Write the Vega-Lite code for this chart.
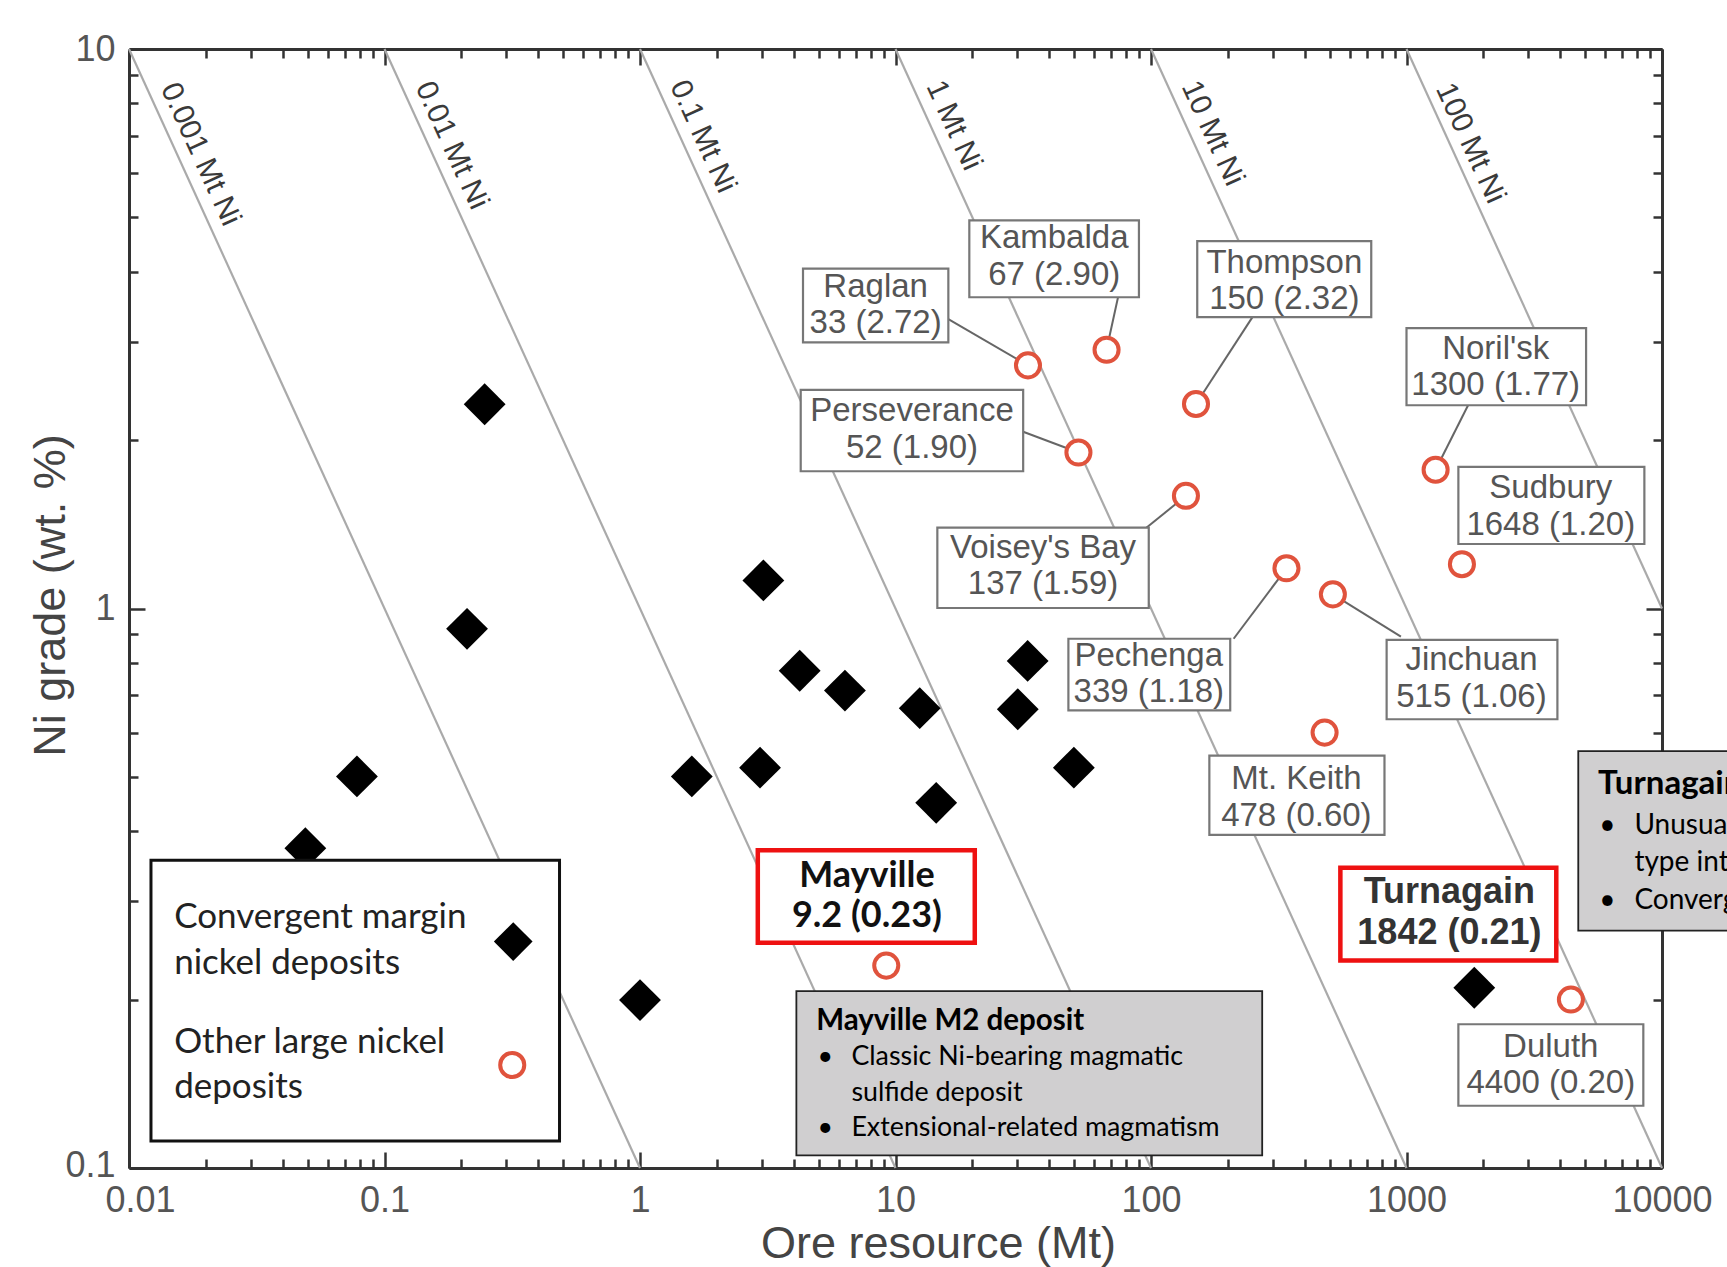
{
  "$schema": "https://vega.github.io/schema/vega-lite/v6.json",
  "width": 1533,
  "height": 1119,
  "autosize": {"type": "none"},
  "padding": {"left": 129, "top": 49, "right": 65, "bottom": 99},
  "background": "#ffffff",
  "config": {"view": {"stroke": null}, "font": "Liberation Sans"},
  "datasets": {
    "iso": [
      {"grp": "0.001", "x": 0.01, "y": 10}, {"grp": "0.001", "x": 1, "y": 0.1},
      {"grp": "0.01", "x": 0.1, "y": 10}, {"grp": "0.01", "x": 10, "y": 0.1},
      {"grp": "0.1", "x": 1, "y": 10}, {"grp": "0.1", "x": 100, "y": 0.1},
      {"grp": "1", "x": 10, "y": 10}, {"grp": "1", "x": 1000, "y": 0.1},
      {"grp": "10", "x": 100, "y": 10}, {"grp": "10", "x": 10000, "y": 0.1},
      {"grp": "100", "x": 1000, "y": 10}, {"grp": "100", "x": 10000, "y": 1}
    ],
    "isoLabels": [
      {"text": "0.001 Mt Ni", "x": 0.01905, "y": 6.486},
      {"text": "0.01 Mt Ni", "x": 0.1833, "y": 6.725},
      {"text": "0.1 Mt Ni", "x": 1.762, "y": 6.975},
      {"text": "1 Mt Ni", "x": 16.92, "y": 7.30},
      {"text": "10 Mt Ni", "x": 174.3, "y": 7.07},
      {"text": "100 Mt Ni", "x": 1778, "y": 6.786}
    ],
    "other": [
      {"name": "Raglan", "tonnage": 33, "grade": 2.72},
      {"name": "Kambalda", "tonnage": 67, "grade": 2.90},
      {"name": "Thompson", "tonnage": 150, "grade": 2.32},
      {"name": "Perseverance", "tonnage": 52, "grade": 1.90},
      {"name": "Voisey's Bay", "tonnage": 137, "grade": 1.59},
      {"name": "Pechenga", "tonnage": 339, "grade": 1.18},
      {"name": "Jinchuan", "tonnage": 515, "grade": 1.06},
      {"name": "Mt. Keith", "tonnage": 478, "grade": 0.60},
      {"name": "Noril'sk", "tonnage": 1300, "grade": 1.77},
      {"name": "Sudbury", "tonnage": 1648, "grade": 1.20},
      {"name": "Duluth", "tonnage": 4400, "grade": 0.20},
      {"name": "Mayville", "tonnage": 9.2, "grade": 0.23}
    ],
    "convergent": [
      {"tonnage": 0.2466, "grade": 2.318},
      {"tonnage": 0.2104, "grade": 0.9196},
      {"tonnage": 3.04, "grade": 1.1225},
      {"tonnage": 4.217, "grade": 0.774},
      {"tonnage": 6.34, "grade": 0.7134},
      {"tonnage": 12.44, "grade": 0.6636},
      {"tonnage": 32.9, "grade": 0.806},
      {"tonnage": 30.1, "grade": 0.6605},
      {"tonnage": 49.9, "grade": 0.5195},
      {"tonnage": 14.43, "grade": 0.4494},
      {"tonnage": 2.95, "grade": 0.5195},
      {"tonnage": 1.595, "grade": 0.501},
      {"tonnage": 0.078, "grade": 0.501},
      {"tonnage": 0.049, "grade": 0.373},
      {"tonnage": 1.0, "grade": 0.1996},
      {"name": "Turnagain", "tonnage": 1842, "grade": 0.21}
    ],
    "labels": [
      {"name": "Raglan", "l1": "Raglan", "l2": "33 (2.72)", "cx": 8.36, "ty1": 3.755, "ty2": 3.238, "bx1": 4.345, "bx2": 16.1, "by1": 4.05, "by2": 2.99},
      {"name": "Kambalda", "l1": "Kambalda", "l2": "67 (2.90)", "cx": 41.8, "ty1": 4.587, "ty2": 3.948, "bx1": 19.45, "bx2": 89.7, "by1": 4.94, "by2": 3.60},
      {"name": "Thompson", "l1": "Thompson", "l2": "150 (2.32)", "cx": 332.6, "ty1": 4.151, "ty2": 3.576, "bx1": 151.7, "bx2": 727.8, "by1": 4.535, "by2": 3.317},
      {"name": "Perseverance", "l1": "Perseverance", "l2": "52 (1.90)", "cx": 11.6, "ty1": 2.251, "ty2": 1.938, "bx1": 4.256, "bx2": 31.6, "by1": 2.459, "by2": 1.759},
      {"name": "Voisey's Bay", "l1": "Voisey's Bay", "l2": "137 (1.59)", "cx": 37.8, "ty1": 1.283, "ty2": 1.104, "bx1": 14.58, "bx2": 98.0, "by1": 1.395, "by2": 1.002},
      {"name": "Pechenga", "l1": "Pechenga", "l2": "339 (1.18)", "cx": 98.0, "ty1": 0.823, "ty2": 0.7085, "bx1": 47.5, "bx2": 204.2, "by1": 0.883, "by2": 0.6575},
      {"name": "Jinchuan", "l1": "Jinchuan", "l2": "515 (1.06)", "cx": 1796, "ty1": 0.808, "ty2": 0.696, "bx1": 836, "bx2": 3896, "by1": 0.879, "by2": 0.634},
      {"name": "Mt. Keith", "l1": "Mt. Keith", "l2": "478 (0.60)", "cx": 370.7, "ty1": 0.4951, "ty2": 0.4266, "bx1": 169.2, "bx2": 820, "by1": 0.546, "by2": 0.394},
      {"name": "Noril'sk", "l1": "Noril'sk", "l2": "1300 (1.77)", "cx": 2234, "ty1": 2.914, "ty2": 2.510, "bx1": 1000, "bx2": 5045, "by1": 3.17, "by2": 2.308},
      {"name": "Sudbury", "l1": "Sudbury", "l2": "1648 (1.20)", "cx": 3670, "ty1": 1.639, "ty2": 1.411, "bx1": 1596, "bx2": 8531, "by1": 1.791, "by2": 1.304},
      {"name": "Duluth", "l1": "Duluth", "l2": "4400 (0.20)", "cx": 3670, "ty1": 0.1647, "ty2": 0.1417, "bx1": 1596, "bx2": 8451, "by1": 0.1807, "by2": 0.1292},
      {"name": "Mayville", "l1": "Mayville", "l2": "9.2 (0.23)", "cx": 7.73, "ty1": 0.3332, "ty2": 0.2817, "bx1": 2.891, "bx2": 20.43, "by1": 0.3698, "by2": 0.2527},
      {"name": "Turnagain", "l1": "Turnagain", "l2": "1842 (0.21)", "cx": 1472, "ty1": 0.3112, "ty2": 0.2630, "bx1": 551, "bx2": 3857, "by1": 0.344, "by2": 0.235}
    ],
    "leaders": [
      {"name": "Raglan", "x1": 16.1, "y1": 3.29, "x2": 33, "y2": 2.72},
      {"name": "Kambalda", "x1": 74.3, "y1": 3.60, "x2": 67, "y2": 2.90},
      {"name": "Thompson", "x1": 249.5, "y1": 3.317, "x2": 150, "y2": 2.32},
      {"name": "Perseverance", "x1": 31.6, "y1": 2.07, "x2": 52, "y2": 1.90},
      {"name": "Voisey's Bay", "x1": 95.1, "y1": 1.39, "x2": 137, "y2": 1.59},
      {"name": "Pechenga", "x1": 210.6, "y1": 0.883, "x2": 339, "y2": 1.18},
      {"name": "Jinchuan", "x1": 951, "y1": 0.891, "x2": 515, "y2": 1.06},
      {"name": "Noril'sk", "x1": 1742, "y1": 2.308, "x2": 1300, "y2": 1.77}
    ],
    "infoBoxes": [
      {"box": "Mayville", "x1": 4.093, "x2": 272.4, "y1": 0.2070, "y2": 0.1053},
      {"box": "Turnagain", "x1": 4702, "x2": 66500, "y1": 0.556, "y2": 0.2656}
    ],
    "infoText": [
      {"box": "Mayville", "role": "title", "x": 4.893, "y": 0.1832, "text": "Mayville M2 deposit"},
      {"box": "Mayville", "role": "body", "x": 4.95, "y": 0.1577, "text": "•"},
      {"box": "Mayville", "role": "body", "x": 6.72, "y": 0.1577, "text": "Classic Ni-bearing magmatic"},
      {"box": "Mayville", "role": "body", "x": 6.72, "y": 0.1364, "text": "sulfide deposit"},
      {"box": "Mayville", "role": "body", "x": 4.95, "y": 0.1180, "text": "•"},
      {"box": "Mayville", "role": "body", "x": 6.72, "y": 0.1180, "text": "Extensional-related magmatism"},
      {"box": "Turnagain", "role": "title", "x": 5623, "y": 0.4853, "text": "Turnagain deposit"},
      {"box": "Turnagain", "role": "body", "x": 5680, "y": 0.4086, "text": "•"},
      {"box": "Turnagain", "role": "body", "x": 7798, "y": 0.4086, "text": "Unusual Alaskan-"},
      {"box": "Turnagain", "role": "body", "x": 7798, "y": 0.3502, "text": "type intrusion"},
      {"box": "Turnagain", "role": "body", "x": 5680, "y": 0.3002, "text": "•"},
      {"box": "Turnagain", "role": "body", "x": 7798, "y": 0.3002, "text": "Convergent margin magmatism"}
    ],
    "legendBox": [{"x1": 0.01219, "x2": 0.4842, "y1": 0.3549, "y2": 0.1117}],
    "legendText": [
      {"x": 0.01502, "y": 0.2804, "text": "Convergent margin"},
      {"x": 0.01502, "y": 0.2329, "text": "nickel deposits"},
      {"x": 0.01502, "y": 0.1680, "text": "Other large nickel"},
      {"x": 0.01502, "y": 0.1395, "text": "deposits"}
    ],
    "legendSymbols": [
      {"type": "Convergent margin nickel deposits", "x": 0.319, "y": 0.2539},
      {"type": "Other large nickel deposits", "x": 0.3162, "y": 0.1528}
    ]
  },
  "resolve": {"axis": {"x": "independent", "y": "independent"}},
  "layer": [
    {
      "data": {"name": "iso"},
      "mark": {"type": "line", "color": "#aaaaaa", "strokeWidth": 2.2},
      "encoding": {
        "x": {"field": "x", "type": "quantitative", "scale": {"type": "log", "domain": [0.01, 10000], "nice": false},
          "axis": {"orient": "bottom", "grid": false,
            "values": [0.01,0.02,0.03,0.04,0.05,0.06,0.07,0.08,0.09,0.1,0.2,0.3,0.4,0.5,0.6,0.7,0.8,0.9,1,2,3,4,5,6,7,8,9,10,20,30,40,50,60,70,80,90,100,200,300,400,500,600,700,800,900,1000,2000,3000,4000,5000,6000,7000,8000,9000,10000],
            "labelExpr": "abs(log(datum.value)/LN10 - round(log(datum.value)/LN10)) < 0.000001 ? '' + datum.value : ''",
            "labelFont": "Liberation Sans", "labelFontSize": 36, "labelColor": "#555555", "labelPadding": 31, "labelOverlap": false, "labelFlush": false, "labelBound": false,
            "labelOffset": {"condition": {"test": "datum.value == 0.01", "value": 11}, "value": 0},
            "tickSize": {"condition": {"test": "abs(log(datum.value)/LN10 - round(log(datum.value)/LN10)) < 0.000001", "value": -16}, "value": -9},
            "tickColor": "#333333", "tickWidth": 2.5, "domainColor": "#333333", "domainWidth": 3,
            "title": "Ore resource (Mt)", "titleFont": "Liberation Sans", "titleFontSize": 45, "titleFontWeight": "normal", "titleColor": "#444444",
            "titleX": 809, "titleY": 75, "titleBaseline": "middle", "titleAlign": "center"}},
        "y": {"field": "y", "type": "quantitative", "scale": {"type": "log", "domain": [0.1, 10], "nice": false},
          "axis": {"orient": "left", "grid": false,
            "values": [0.1,0.2,0.3,0.4,0.5,0.6,0.7,0.8,0.9,1,2,3,4,5,6,7,8,9,10],
            "labelExpr": "abs(log(datum.value)/LN10 - round(log(datum.value)/LN10)) < 0.000001 ? '' + datum.value : ''",
            "labelFont": "Liberation Sans", "labelFontSize": 36, "labelColor": "#555555", "labelPadding": 30, "labelOverlap": false, "labelFlush": false, "labelBound": false,
            "labelOffset": {"condition": {"test": "datum.value == 0.1", "value": -3}, "value": 0},
            "tickSize": {"condition": {"test": "abs(log(datum.value)/LN10 - round(log(datum.value)/LN10)) < 0.000001", "value": -16}, "value": -9},
            "tickColor": "#333333", "tickWidth": 2.5, "domainColor": "#333333", "domainWidth": 3,
            "title": "Ni grade (wt. %)", "titleFont": "Liberation Sans", "titleFontSize": 45, "titleFontWeight": "normal", "titleColor": "#444444",
            "titleX": -79, "titleY": 546, "titleBaseline": "middle", "titleAlign": "center", "titleAngle": -90}},
        "detail": {"field": "grp"}
      }
    },
    {
      "data": {"name": "isoLabels"},
      "mark": {"type": "text", "font": "Liberation Sans", "fontSize": 30, "color": "#3a3a3a", "angle": 65.5, "align": "center", "baseline": "middle"},
      "encoding": {
        "x": {"field": "x", "type": "quantitative", "scale": {"type": "log", "domain": [0.01, 10000], "nice": false}, "axis": null},
        "y": {"field": "y", "type": "quantitative", "scale": {"type": "log", "domain": [0.1, 10], "nice": false}, "axis": null},
        "text": {"field": "text"}
      }
    },
    {
      "data": {"name": "leaders"},
      "mark": {"type": "rule", "color": "#666666", "strokeWidth": 2},
      "encoding": {
        "x": {"field": "x1", "type": "quantitative", "scale": {"type": "log", "domain": [0.01, 10000], "nice": false}, "axis": null},
        "x2": {"field": "x2"},
        "y": {"field": "y1", "type": "quantitative", "scale": {"type": "log", "domain": [0.1, 10], "nice": false}, "axis": null},
        "y2": {"field": "y2"}
      }
    },
    {
      "data": {"name": "labels"},
      "transform": [{"filter": "datum.name != 'Mayville' && datum.name != 'Turnagain'"}],
      "mark": {"type": "rect", "fill": "#ffffff", "stroke": "#777777", "strokeWidth": 2.2},
      "encoding": {
        "x": {"field": "bx1", "type": "quantitative", "scale": {"type": "log", "domain": [0.01, 10000], "nice": false}, "axis": null},
        "x2": {"field": "bx2"},
        "y": {"field": "by1", "type": "quantitative", "scale": {"type": "log", "domain": [0.1, 10], "nice": false}, "axis": null},
        "y2": {"field": "by2"}
      }
    },
    {
      "data": {"name": "labels"},
      "transform": [{"filter": "datum.name == 'Mayville' || datum.name == 'Turnagain'"}],
      "mark": {"type": "rect", "fill": "#ffffff", "stroke": "#ee1111", "strokeWidth": 4.5},
      "encoding": {
        "x": {"field": "bx1", "type": "quantitative", "scale": {"type": "log", "domain": [0.01, 10000], "nice": false}, "axis": null},
        "x2": {"field": "bx2"},
        "y": {"field": "by1", "type": "quantitative", "scale": {"type": "log", "domain": [0.1, 10], "nice": false}, "axis": null},
        "y2": {"field": "by2"}
      }
    },
    {
      "data": {"name": "labels"},
      "transform": [{"filter": "datum.name != 'Mayville' && datum.name != 'Turnagain'"}],
      "mark": {"type": "text", "font": "Liberation Sans", "fontSize": 33, "color": "#555555", "align": "center", "baseline": "middle"},
      "encoding": {
        "x": {"field": "cx", "type": "quantitative", "scale": {"type": "log", "domain": [0.01, 10000], "nice": false}, "axis": null},
        "y": {"field": "ty1", "type": "quantitative", "scale": {"type": "log", "domain": [0.1, 10], "nice": false}, "axis": null},
        "text": {"field": "l1"}
      }
    },
    {
      "data": {"name": "labels"},
      "transform": [{"filter": "datum.name != 'Mayville' && datum.name != 'Turnagain'"}],
      "mark": {"type": "text", "font": "Liberation Sans", "fontSize": 33, "color": "#555555", "align": "center", "baseline": "middle"},
      "encoding": {
        "x": {"field": "cx", "type": "quantitative", "scale": {"type": "log", "domain": [0.01, 10000], "nice": false}, "axis": null},
        "y": {"field": "ty2", "type": "quantitative", "scale": {"type": "log", "domain": [0.1, 10], "nice": false}, "axis": null},
        "text": {"field": "l2"}
      }
    },
    {
      "data": {"name": "labels"},
      "transform": [{"filter": "datum.name == 'Mayville'"}],
      "mark": {"type": "text", "font": "Lato", "fontSize": 36, "fontWeight": "bold", "color": "#111111", "align": "center", "baseline": "middle"},
      "encoding": {
        "x": {"field": "cx", "type": "quantitative", "scale": {"type": "log", "domain": [0.01, 10000], "nice": false}, "axis": null},
        "y": {"field": "ty1", "type": "quantitative", "scale": {"type": "log", "domain": [0.1, 10], "nice": false}, "axis": null},
        "text": {"field": "l1"}
      }
    },
    {
      "data": {"name": "labels"},
      "transform": [{"filter": "datum.name == 'Mayville'"}],
      "mark": {"type": "text", "font": "Lato", "fontSize": 36, "fontWeight": "bold", "color": "#111111", "align": "center", "baseline": "middle"},
      "encoding": {
        "x": {"field": "cx", "type": "quantitative", "scale": {"type": "log", "domain": [0.01, 10000], "nice": false}, "axis": null},
        "y": {"field": "ty2", "type": "quantitative", "scale": {"type": "log", "domain": [0.1, 10], "nice": false}, "axis": null},
        "text": {"field": "l2"}
      }
    },
    {
      "data": {"name": "labels"},
      "transform": [{"filter": "datum.name == 'Turnagain'"}],
      "mark": {"type": "text", "font": "Liberation Sans", "fontSize": 36, "fontWeight": "bold", "color": "#333333", "align": "center", "baseline": "middle"},
      "encoding": {
        "x": {"field": "cx", "type": "quantitative", "scale": {"type": "log", "domain": [0.01, 10000], "nice": false}, "axis": null},
        "y": {"field": "ty1", "type": "quantitative", "scale": {"type": "log", "domain": [0.1, 10], "nice": false}, "axis": null},
        "text": {"field": "l1"}
      }
    },
    {
      "data": {"name": "labels"},
      "transform": [{"filter": "datum.name == 'Turnagain'"}],
      "mark": {"type": "text", "font": "Liberation Sans", "fontSize": 36, "fontWeight": "bold", "color": "#333333", "align": "center", "baseline": "middle"},
      "encoding": {
        "x": {"field": "cx", "type": "quantitative", "scale": {"type": "log", "domain": [0.01, 10000], "nice": false}, "axis": null},
        "y": {"field": "ty2", "type": "quantitative", "scale": {"type": "log", "domain": [0.1, 10], "nice": false}, "axis": null},
        "text": {"field": "l2"}
      }
    },
    {
      "data": {"name": "other"},
      "mark": {"type": "point", "shape": "circle", "size": 580, "filled": false, "fill": "#ffffff", "fillOpacity": 1, "stroke": "#e0533d", "strokeWidth": 4, "opacity": 1},
      "encoding": {
        "x": {"field": "tonnage", "type": "quantitative", "scale": {"type": "log", "domain": [0.01, 10000], "nice": false},
          "axis": {"orient": "top", "grid": false, "labels": false, "title": null,
            "values": [0.01,0.02,0.03,0.04,0.05,0.06,0.07,0.08,0.09,0.1,0.2,0.3,0.4,0.5,0.6,0.7,0.8,0.9,1,2,3,4,5,6,7,8,9,10,20,30,40,50,60,70,80,90,100,200,300,400,500,600,700,800,900,1000,2000,3000,4000,5000,6000,7000,8000,9000,10000],
            "tickSize": {"condition": {"test": "abs(log(datum.value)/LN10 - round(log(datum.value)/LN10)) < 0.000001", "value": -16}, "value": -9},
            "tickColor": "#333333", "tickWidth": 2.5, "domainColor": "#333333", "domainWidth": 3}},
        "y": {"field": "grade", "type": "quantitative", "scale": {"type": "log", "domain": [0.1, 10], "nice": false},
          "axis": {"orient": "right", "grid": false, "labels": false, "title": null,
            "values": [0.1,0.2,0.3,0.4,0.5,0.6,0.7,0.8,0.9,1,2,3,4,5,6,7,8,9,10],
            "tickSize": {"condition": {"test": "abs(log(datum.value)/LN10 - round(log(datum.value)/LN10)) < 0.000001", "value": -16}, "value": -9},
            "tickColor": "#333333", "tickWidth": 2.5, "domainColor": "#333333", "domainWidth": 3}}
      }
    },
    {
      "data": {"name": "convergent"},
      "mark": {"type": "point", "shape": "diamond", "size": 1750, "filled": true, "color": "#000000", "opacity": 1},
      "encoding": {
        "x": {"field": "tonnage", "type": "quantitative", "scale": {"type": "log", "domain": [0.01, 10000], "nice": false}, "axis": null},
        "y": {"field": "grade", "type": "quantitative", "scale": {"type": "log", "domain": [0.1, 10], "nice": false}, "axis": null}
      }
    },
    {
      "data": {"name": "infoBoxes"},
      "mark": {"type": "rect", "fill": "#d0cfd0", "stroke": "#222222", "strokeWidth": 1.8},
      "encoding": {
        "x": {"field": "x1", "type": "quantitative", "scale": {"type": "log", "domain": [0.01, 10000], "nice": false}, "axis": null},
        "x2": {"field": "x2"},
        "y": {"field": "y1", "type": "quantitative", "scale": {"type": "log", "domain": [0.1, 10], "nice": false}, "axis": null},
        "y2": {"field": "y2"}
      }
    },
    {
      "data": {"name": "infoText"},
      "transform": [{"filter": "datum.role == 'title' && datum.box == 'Mayville'"}],
      "mark": {"type": "text", "font": "Lato", "fontSize": 29.5, "fontWeight": "bold", "color": "#000000", "align": "left", "baseline": "middle"},
      "encoding": {
        "x": {"field": "x", "type": "quantitative", "scale": {"type": "log", "domain": [0.01, 10000], "nice": false}, "axis": null},
        "y": {"field": "y", "type": "quantitative", "scale": {"type": "log", "domain": [0.1, 10], "nice": false}, "axis": null},
        "text": {"field": "text"}
      }
    },
    {
      "data": {"name": "infoText"},
      "transform": [{"filter": "datum.role == 'body' && datum.box == 'Mayville'"}],
      "mark": {"type": "text", "font": "Lato", "fontSize": 26.8, "color": "#000000", "align": "left", "baseline": "middle"},
      "encoding": {
        "x": {"field": "x", "type": "quantitative", "scale": {"type": "log", "domain": [0.01, 10000], "nice": false}, "axis": null},
        "y": {"field": "y", "type": "quantitative", "scale": {"type": "log", "domain": [0.1, 10], "nice": false}, "axis": null},
        "text": {"field": "text"}
      }
    },
    {
      "data": {"name": "infoText"},
      "transform": [{"filter": "datum.role == 'title' && datum.box == 'Turnagain'"}],
      "mark": {"type": "text", "font": "Lato", "fontSize": 33, "fontWeight": "bold", "color": "#000000", "align": "left", "baseline": "middle"},
      "encoding": {
        "x": {"field": "x", "type": "quantitative", "scale": {"type": "log", "domain": [0.01, 10000], "nice": false}, "axis": null},
        "y": {"field": "y", "type": "quantitative", "scale": {"type": "log", "domain": [0.1, 10], "nice": false}, "axis": null},
        "text": {"field": "text"}
      }
    },
    {
      "data": {"name": "infoText"},
      "transform": [{"filter": "datum.role == 'body' && datum.box == 'Turnagain'"}],
      "mark": {"type": "text", "font": "Lato", "fontSize": 28, "color": "#000000", "align": "left", "baseline": "middle"},
      "encoding": {
        "x": {"field": "x", "type": "quantitative", "scale": {"type": "log", "domain": [0.01, 10000], "nice": false}, "axis": null},
        "y": {"field": "y", "type": "quantitative", "scale": {"type": "log", "domain": [0.1, 10], "nice": false}, "axis": null},
        "text": {"field": "text"}
      }
    },
    {
      "data": {"name": "legendBox"},
      "mark": {"type": "rect", "fill": "#ffffff", "stroke": "#111111", "strokeWidth": 3},
      "encoding": {
        "x": {"field": "x1", "type": "quantitative", "scale": {"type": "log", "domain": [0.01, 10000], "nice": false}, "axis": null},
        "x2": {"field": "x2"},
        "y": {"field": "y1", "type": "quantitative", "scale": {"type": "log", "domain": [0.1, 10], "nice": false}, "axis": null},
        "y2": {"field": "y2"}
      }
    },
    {
      "data": {"name": "legendText"},
      "mark": {"type": "text", "font": "Lato", "fontSize": 35, "color": "#222222", "align": "left", "baseline": "middle"},
      "encoding": {
        "x": {"field": "x", "type": "quantitative", "scale": {"type": "log", "domain": [0.01, 10000], "nice": false}, "axis": null},
        "y": {"field": "y", "type": "quantitative", "scale": {"type": "log", "domain": [0.1, 10], "nice": false}, "axis": null},
        "text": {"field": "text"}
      }
    },
    {
      "data": {"name": "legendSymbols"},
      "transform": [{"filter": "datum.type == 'Convergent margin nickel deposits'"}],
      "mark": {"type": "point", "shape": "diamond", "size": 1500, "filled": true, "color": "#000000", "opacity": 1},
      "encoding": {
        "x": {"field": "x", "type": "quantitative", "scale": {"type": "log", "domain": [0.01, 10000], "nice": false}, "axis": null},
        "y": {"field": "y", "type": "quantitative", "scale": {"type": "log", "domain": [0.1, 10], "nice": false}, "axis": null}
      }
    },
    {
      "data": {"name": "legendSymbols"},
      "transform": [{"filter": "datum.type == 'Other large nickel deposits'"}],
      "mark": {"type": "point", "shape": "circle", "size": 580, "filled": false, "fill": "#ffffff", "fillOpacity": 1, "stroke": "#e0533d", "strokeWidth": 4, "opacity": 1},
      "encoding": {
        "x": {"field": "x", "type": "quantitative", "scale": {"type": "log", "domain": [0.01, 10000], "nice": false}, "axis": null},
        "y": {"field": "y", "type": "quantitative", "scale": {"type": "log", "domain": [0.1, 10], "nice": false}, "axis": null}
      }
    }
  ]
}
